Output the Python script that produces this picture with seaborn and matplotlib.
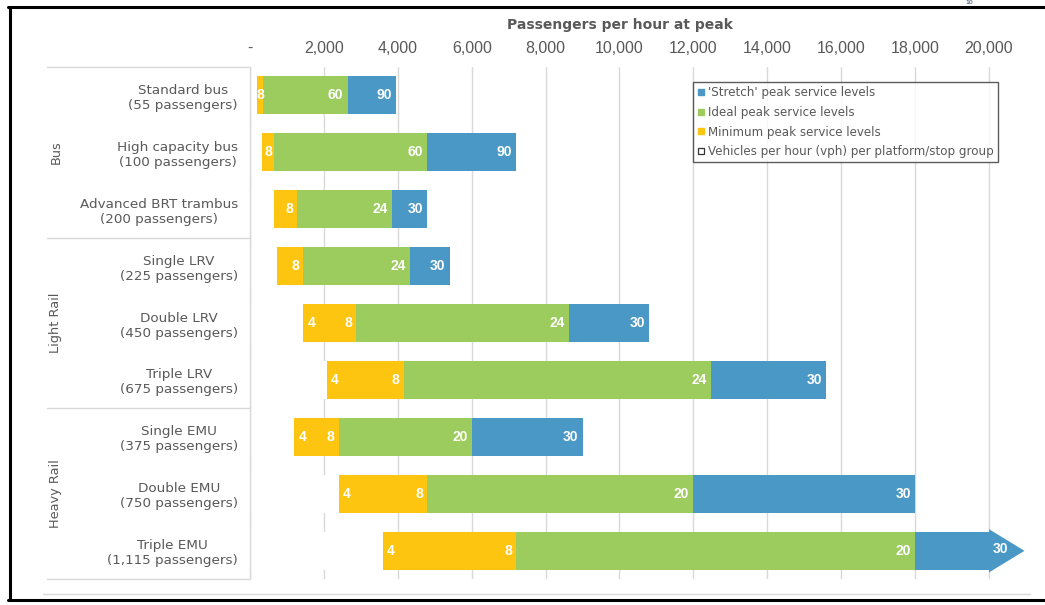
import matplotlib
matplotlib.use("Agg")
import numpy as np
import pandas as pd
import matplotlib.pyplot as plt
import matplotlib.transforms as mtransforms
from matplotlib.lines import Line2D
from matplotlib.patches import Polygon
import seaborn as sns

# values (passengers per hour at peak)
modes = ["Standard bus\n(55 passengers)", "High capacity bus\n(100 passengers)",
         "Advanced BRT trambus\n(200 passengers)", "Single LRV\n(225 passengers)",
         "Double LRV\n(450 passengers)", "Triple LRV\n(675 passengers)",
         "Single EMU\n(375 passengers)", "Double EMU\n(750 passengers)",
         "Triple EMU\n(1,115 passengers)"]
groups = ["Bus", "Light Rail", "Heavy Rail"]
min_start = [176, 320, 640, 720, 1440, 2080, 1200, 2400, 3600]
min_end = [352, 640, 1280, 1440, 2880, 4160, 2400, 4800, 7200]
ideal_end = [2640, 4800, 3840, 4320, 8640, 12480, 6000, 12000, 18000]
stretch_end = [3960, 7200, 4800, 5400, 10800, 15600, 9000, 18000, 27000]

# vehicles per hour labels
start_vph = ["", "", "", "", "4", "4", "4", "4", "4"]
min_vph = ["8", "8", "8", "8", "8", "8", "8", "8", "8"]
ideal_vph = ["60", "60", "24", "24", "24", "24", "20", "20", "20"]
stretch_vph = ["90", "90", "30", "30", "30", "30", "30", "30", "30"]

xticks = [0, 2000, 4000, 6000, 8000, 10000, 12000, 14000, 16000, 18000, 20000]
xmax_shown = 20000

BLUE = "#4A98C6"
GREEN = "#9DCC5E"
YELLOW = "#FDC510"
GREY = "#595959"
LINE = "#D9D9D9"

sns.set_theme(style="white")
plt.rcParams['font.family'] = ['DejaVu Sans']

df = pd.DataFrame({"mode": modes, "start": min_start, "min": min_end,
                   "ideal": ideal_end, "stretch": stretch_end})
df["stretch_shown"] = np.minimum(df["stretch"], xmax_shown)

W, H = 1045, 605
fig = plt.figure(figsize=(W / 100, H / 100), dpi=100)
ax = fig.add_axes([250 / W, 1 - 579.3 / H, 780 / W, 512.6 / H])

# stack from the back: each bar starts at zero, the white one hides the gap
for col, c in [("stretch_shown", BLUE), ("ideal", GREEN), ("min", YELLOW), ("start", "white")]:
    sns.barplot(data=df, x=col, y="mode", orient="h", color=c, saturation=1,
                width=0.67, linewidth=0, ax=ax)

ax.set_xlim(0, 21110)
ax.set_ylim(8.5, -0.5)
ax.set_xlabel("")
ax.set_ylabel("")
ax.xaxis.grid(True, color=LINE, lw=1)
ax.yaxis.grid(False)
ax.set_axisbelow(True)
ax.xaxis.tick_top()
ax.set_xticks(xticks)
ax.set_xticklabels(["-"] + [f"{v:,}" for v in xticks[1:]])
ax.tick_params(axis="x", length=0, pad=7.5, labelsize=11.5, labelcolor=GREY)
for t in ax.get_xticklabels():
    t.set_fontfamily("Liberation Sans")
ax.tick_params(axis="y", length=0, pad=8.6, labelsize=9.7, labelcolor=GREY)
for t in ax.get_yticklabels():
    t.set_multialignment("center")
for s in ["top", "right", "bottom"]:
    ax.spines[s].set_visible(False)
ax.spines["left"].set_color(LINE)
ax.spines["left"].set_linewidth(1)

# arrow for bars running past the axis
bar_h = 0.67
for i, v in enumerate(stretch_end):
    if v > xmax_shown:
        head = Polygon([[xmax_shown, i - bar_h / 2 - 0.045], [xmax_shown + 960, i],
                        [xmax_shown, i + bar_h / 2 + 0.045]], closed=True,
                       facecolor=BLUE, edgecolor="none", clip_on=False, zorder=3)
        ax.add_patch(head)

lab = dict(color="white", fontsize=10, fontweight="bold", family="Liberation Sans",
           va="center", textcoords="offset points", zorder=5)
for i in range(len(modes)):
    if start_vph[i]:
        ax.annotate(start_vph[i], (min_start[i], i), xytext=(3, 0), ha="left", **lab)
    # narrow yellow segments get their label centred, like Excel does
    if min_end[i] - min_start[i] < 500:
        ax.annotate(min_vph[i], ((min_start[i] + min_end[i]) / 2, i), xytext=(0.5, 0),
                    ha="center", **lab)
    else:
        ax.annotate(min_vph[i], (min_end[i], i), xytext=(-3, 0), ha="right", **lab)
    ax.annotate(ideal_vph[i], (ideal_end[i], i), xytext=(-3, 0), ha="right", **lab)
    if stretch_end[i] > xmax_shown:
        ax.annotate(stretch_vph[i], (xmax_shown, i - 0.03), xytext=(3, 0), ha="left", **lab)
    else:
        ax.annotate(stretch_vph[i], (stretch_end[i], i), xytext=(-3, 0), ha="right", **lab)

# group labels on the left
trans = mtransforms.blended_transform_factory(fig.transFigure, ax.transData)
for b in [-0.5, 2.5, 5.5, 8.5]:
    ax.plot([47 / W, 250 / W], [b, b], color=LINE, lw=1, transform=trans, clip_on=False)
for k, g in enumerate(groups):
    ax.text(56 / W, 3 * k + 1, g, rotation=90, ha="center", va="center",
            fontsize=9.3, color=GREY, transform=trans)

fig.text(620 / W, 1 - 25 / H, "Passengers per hour at peak", ha="center", va="center",
         fontsize=10, fontweight="bold", color=GREY)

handles = [Line2D([], [], ls="none", marker="s", ms=4.5, mfc=BLUE, mec=BLUE),
           Line2D([], [], ls="none", marker="s", ms=4.5, mfc=GREEN, mec=GREEN),
           Line2D([], [], ls="none", marker="s", ms=4.5, mfc=YELLOW, mec=YELLOW),
           Line2D([], [], ls="none", marker="s", ms=4.5, mfc="white", mec="#333333", mew=0.9)]
names = ["'Stretch' peak service levels", "Ideal peak service levels",
         "Minimum peak service levels", "Vehicles per hour (vph) per platform/stop group"]
leg = fig.legend(handles, names, loc="upper left", bbox_to_anchor=(693 / W, 1 - 82 / H),
                 borderaxespad=0, fontsize=8.6, labelcolor=GREY, frameon=True,
                 fancybox=False, edgecolor="#333333", handlelength=0.6,
                 handletextpad=0.3, labelspacing=0.56, borderpad=0.35)
leg.get_frame().set_linewidth(1)

# page frame and bottom rule
fig.add_artist(Line2D([8 / W, 1], [1 - 7 / H, 1 - 7 / H], color="black", lw=2.2))
fig.add_artist(Line2D([10 / W, 10 / W], [1 - 7 / H, 1 - 600 / H], color="black", lw=2.2))
fig.add_artist(Line2D([8 / W, 1], [1 - 600 / H, 1 - 600 / H], color="black", lw=2.2))
fig.add_artist(Line2D([43 / W, 1030 / W], [1 - 594 / H, 1 - 594 / H], color=LINE, lw=1))
# page number above the frame
fig.text(969 / W, 1 - 0.5 / H, "10", ha="center", va="top", fontsize=4.5, color="#22385A")

fig.savefig("out.png", dpi=100)
